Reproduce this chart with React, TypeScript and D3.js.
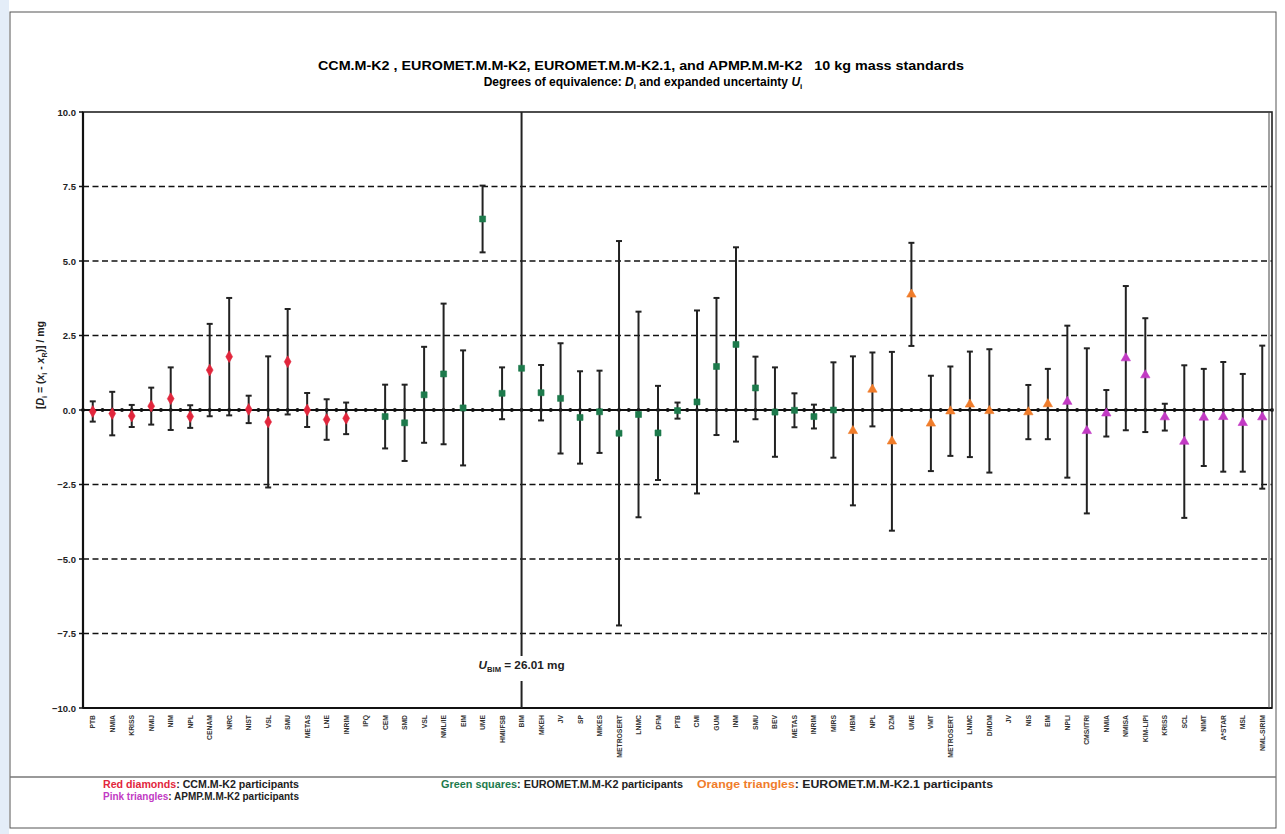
import React from 'react';
import * as d3 from 'd3';

// Participating laboratories, in plotting order
const labs = [
  'PTB', 'NMIA', 'KRISS', 'NMIJ', 'NIM', 'NPL', 'CENAM', 'NRC', 'NIST', 'VSL', 'SMU', 'METAS', 'LNE', 'INRIM',
  'IPQ', 'CEM', 'SMD', 'VSL', 'NML/IE', 'EIM', 'UME', 'HMI/FSB', 'BIM', 'MKEH', 'JV', 'SP', 'MIKES', 'METROSERT',
  'LNMC', 'DFM', 'PTB', 'CMI', 'GUM', 'INM', 'SMU', 'BEV', 'METAS', 'INRIM', 'MIRS',
  'MBM', 'NPL', 'DZM', 'UME', 'VMT', 'METROSERT', 'LNMC', 'DMDM', 'JV', 'NIS', 'EIM',
  'NPLI', 'CMS/ITRI', 'NMIA', 'NMISA', 'KIM-LIPI', 'KRISS', 'SCL', 'NIMT', 'A*STAR', 'MSL', 'NML-SIRIM',
];

// Comparison each laboratory took part in: C = CCM.M-K2, E = EUROMET.M.M-K2,
// O = EUROMET.M.M-K2.1, A = APMP.M.M-K2
const groupCodes = [
  'C', 'C', 'C', 'C', 'C', 'C', 'C', 'C', 'C', 'C', 'C', 'C', 'C', 'C',
  'E', 'E', 'E', 'E', 'E', 'E', 'E', 'E', 'E', 'E', 'E', 'E', 'E', 'E',
  'E', 'E', 'E', 'E', 'E', 'E', 'E', 'E', 'E', 'E', 'E',
  'O', 'O', 'O', 'O', 'O', 'O', 'O', 'O', 'O', 'O', 'O',
  'A', 'A', 'A', 'A', 'A', 'A', 'A', 'A', 'A', 'A', 'A',
];

// Degrees of equivalence D_i / mg (null: no result reported)
const dValues: (number | null)[] = [
  -0.05, -0.12, -0.2, 0.13, 0.38, -0.22, 1.34, 1.79, 0.02, -0.4, 1.62, 0.0, -0.32, -0.28,
  null, -0.22, -0.43, 0.51, 1.21, 0.07, 6.41, 0.56, 1.4, 0.58, 0.39, -0.25, -0.06, -0.78,
  -0.15, -0.77, -0.02, 0.27, 1.46, 2.2, 0.74, -0.07, -0.01, -0.22, 0.0,
  -0.7, 0.69, -1.05, 3.88, -0.45, -0.04, 0.19, -0.03, null, -0.07, 0.2,
  0.28, -0.7, -0.11, 1.74, 1.17, -0.24, -1.06, -0.25, -0.23, -0.43, -0.24,
];

// Expanded uncertainties U_i / mg
const uValues: (number | null)[] = [
  0.34, 0.73, 0.37, 0.62, 1.05, 0.38, 1.55, 1.97, 0.46, 2.2, 1.77, 0.57, 0.68, 0.53,
  null, 1.07, 1.28, 1.61, 2.36, 1.93, 1.12, 0.87, 26.01, 0.93, 1.85, 1.55, 1.38, 6.45,
  3.45, 1.58, 0.27, 3.07, 2.3, 3.26, 1.05, 1.5, 0.57, 0.4, 1.6,
  2.5, 1.24, 3.0, 1.73, 1.6, 1.5, 1.77, 2.07, null, 0.91, 1.18,
  2.55, 2.77, 0.78, 2.42, 1.91, 0.45, 2.56, 1.63, 1.84, 1.64, 2.4,
];

const yTicks = [10, 7.5, 5, 2.5, 0, -2.5, -5, -7.5, -10];
const gridTicks = [7.5, 5, 2.5, -2.5, -5, -7.5];

const groupStyle: Record<string, { color: string; symbol: d3.SymbolType; size: number }> = {
  C: { color: '#e2263c', symbol: d3.symbolDiamond, size: 40 },
  E: { color: '#1d7a4c', symbol: d3.symbolSquare, size: 36 },
  O: { color: '#f07c2a', symbol: d3.symbolTriangle, size: 38 },
  A: { color: '#c23ac4', symbol: d3.symbolTriangle, size: 38 },
};

const W = 1285;
const H = 834;
const plot = { left: 83, right: 1272, top: 112, bottom: 708 };
const FONT = 'Liberation Sans, Arial, sans-serif';

export default function App() {
  const idx = labs.map((_, i) => String(i));
  const x = d3.scaleBand().domain(idx).range([plot.left, plot.right]);
  const bw = x.bandwidth();
  const cx = (i: number) => (x(String(i)) as number) + bw / 2;
  const y = d3.scaleLinear().domain([-10, 10]).range([plot.bottom, plot.top]);

  // small dots along the reference (zero) line, at every half category
  const zeroDots: number[] = [];
  labs.forEach((_, i) => {
    zeroDots.push(x(String(i)) as number);
    zeroDots.push(cx(i));
  });
  zeroDots.push(plot.right);

  const legend = [
    { x: 103, y: 788, len: 196, head: 'Red diamonds', tail: ': CCM.M-K2 participants', color: groupStyle.C.color },
    { x: 103, y: 800, len: 196, head: 'Pink triangles', tail: ': APMP.M.M-K2 participants', color: groupStyle.A.color },
    { x: 441, y: 788, len: 242, head: 'Green squares', tail: ': EUROMET.M.M-K2 participants', color: groupStyle.E.color },
    { x: 697, y: 788, len: 296, head: 'Orange triangles', tail: ': EUROMET.M.M-K2.1 participants', color: groupStyle.O.color },
  ];

  const bimIndex = 22;

  return (
    <svg width={W} height={H} style={{ position: 'absolute', left: 0, top: 0, background: '#fff' }}
      fontFamily={FONT}>
      <defs>
        <clipPath id="plotClip">
          <rect x={plot.left} y={plot.top} width={plot.right - plot.left} height={plot.bottom - plot.top} />
        </clipPath>
      </defs>
      <rect x={0} y={0} width={W} height={H} fill="#fff" />
      <rect x={0} y={0} width={9} height={H} fill="#e4edf8" />
      <rect x={10} y={12} width={1266} height={816} fill="#fff" stroke="#555" strokeWidth={1} />
      <line x1={10} x2={1276} y1={777} y2={777} stroke="#777" strokeWidth={1.5} />

      {/* title */}
      <text x={318} y={70} fontSize={12.5} fontWeight="bold" textLength={646} lengthAdjust="spacingAndGlyphs">
        CCM.M-K2 , EUROMET.M.M-K2, EUROMET.M.M-K2.1, and APMP.M.M-K2{'\u00a0\u00a0\u00a0'}10 kg mass standards
      </text>
      <text x={643} y={86} textAnchor="middle" fontSize={12} fontWeight="bold">
        Degrees of equivalence: <tspan fontStyle="italic">D</tspan>
        <tspan fontSize={8} dy={3}>i</tspan>
        <tspan dy={-3}> and expanded uncertainty </tspan>
        <tspan fontStyle="italic">U</tspan>
        <tspan fontSize={8} dy={3}>i</tspan>
      </text>

      {/* dashed grid */}
      {gridTicks.map((t) => (
        <line key={t} x1={plot.left} x2={plot.right} y1={y(t)} y2={y(t)}
          stroke="#111" strokeWidth={1.6} strokeDasharray="6,3.5" />
      ))}

      {/* zero line */}
      <line x1={plot.left} x2={plot.right} y1={y(0)} y2={y(0)} stroke="#111" strokeWidth={2.2} />
      {zeroDots.map((d, i) => (
        <circle key={i} cx={d} cy={y(0)} r={1.9} fill="#111" />
      ))}

      {/* plot frame */}
      <rect x={plot.left} y={plot.top} width={plot.right - plot.left} height={plot.bottom - plot.top}
        fill="none" stroke="#222" strokeWidth={1.6} />
      <line x1={plot.left} x2={plot.left} y1={plot.top} y2={plot.bottom} stroke="#111" strokeWidth={2.2} />
      <line x1={plot.left} x2={plot.right} y1={plot.bottom} y2={plot.bottom} stroke="#111" strokeWidth={2.2} />
      <line x1={plot.right - 3} x2={plot.right - 3} y1={plot.top} y2={plot.bottom} stroke="#444" strokeWidth={1} />

      {/* y axis ticks and labels */}
      {yTicks.map((t) => (
        <g key={t}>
          <line x1={plot.left - 4} x2={plot.left} y1={y(t)} y2={y(t)} stroke="#111" strokeWidth={1.5} />
          <text x={plot.left - 7} y={y(t) + 3.5} textAnchor="end" fontSize={9.5} fontWeight="bold" fill="#222">
            {d3.format('.1f')(t)}
          </text>
        </g>
      ))}
      <text transform={`translate(44,${(plot.top + plot.bottom) / 2 - 45}) rotate(-90)`} textAnchor="middle"
        fontSize={10.5} fontWeight="bold" fill="#222">
        [<tspan fontStyle="italic">D</tspan><tspan fontSize={7} dy={2.5}>i</tspan>
        <tspan dy={-2.5}> = (</tspan><tspan fontStyle="italic">x</tspan><tspan fontSize={7} dy={2.5}>i</tspan>
        <tspan dy={-2.5}> - </tspan><tspan fontStyle="italic">x</tspan><tspan fontSize={7} dy={2.5}>R</tspan>
        <tspan dy={-2.5}>)] / mg</tspan>
      </text>

      {/* x axis labels */}
      {labs.map((lab, i) => (
        <text key={i} transform={`translate(${cx(i) + 2.5},${plot.bottom + 7}) rotate(-90)`} textAnchor="end"
          fontSize={6.8} fontWeight="bold" fill="#333">
          {lab}
        </text>
      ))}

      {/* error bars */}
      <g clipPath="url(#plotClip)">
        {labs.map((_, i) => {
          const d = dValues[i];
          const u = uValues[i];
          if (d === null || u === null) return null;
          const px = cx(i);
          return (
            <g key={i}>
              <line x1={px} x2={px} y1={y(d + u)} y2={y(d - u)} stroke="#222" strokeWidth={2} />
              <line x1={px - 3} x2={px + 3} y1={y(d + u)} y2={y(d + u)} stroke="#222" strokeWidth={2} />
              <line x1={px - 3} x2={px + 3} y1={y(d - u)} y2={y(d - u)} stroke="#222" strokeWidth={2} />
            </g>
          );
        })}
      </g>

      {/* markers */}
      {labs.map((_, i) => {
        const d = dValues[i];
        if (d === null) return null;
        const st = groupStyle[groupCodes[i]];
        const path = d3.symbol().type(st.symbol).size(st.size)() as string;
        return (
          <path key={i} d={path} transform={`translate(${cx(i)},${y(d)})`} fill={st.color} stroke={st.color}
            strokeWidth={0.6} />
        );
      })}

      {/* label for the BIM uncertainty, which runs off the scale */}
      <rect x={cx(bimIndex) - 46} y={656} width={92} height={25} fill="#fff" />
      <text x={cx(bimIndex) - 43} y={669} fontSize={10} fontWeight="bold" fill="#222" textLength={86}
        lengthAdjust="spacingAndGlyphs">
        <tspan fontStyle="italic">U</tspan><tspan fontSize={6.5} dy={2.5}>BIM</tspan>
        <tspan dy={-2.5}> = 26.01 mg</tspan>
      </text>

      {/* legend */}
      {legend.map((l) => (
        <text key={l.head} x={l.x} y={l.y} fontSize={10} fontWeight="bold" fill="#222" textLength={l.len}
          lengthAdjust="spacingAndGlyphs">
          <tspan fill={l.color}>{l.head}</tspan>
          {l.tail}
        </text>
      ))}
    </svg>
  );
}
